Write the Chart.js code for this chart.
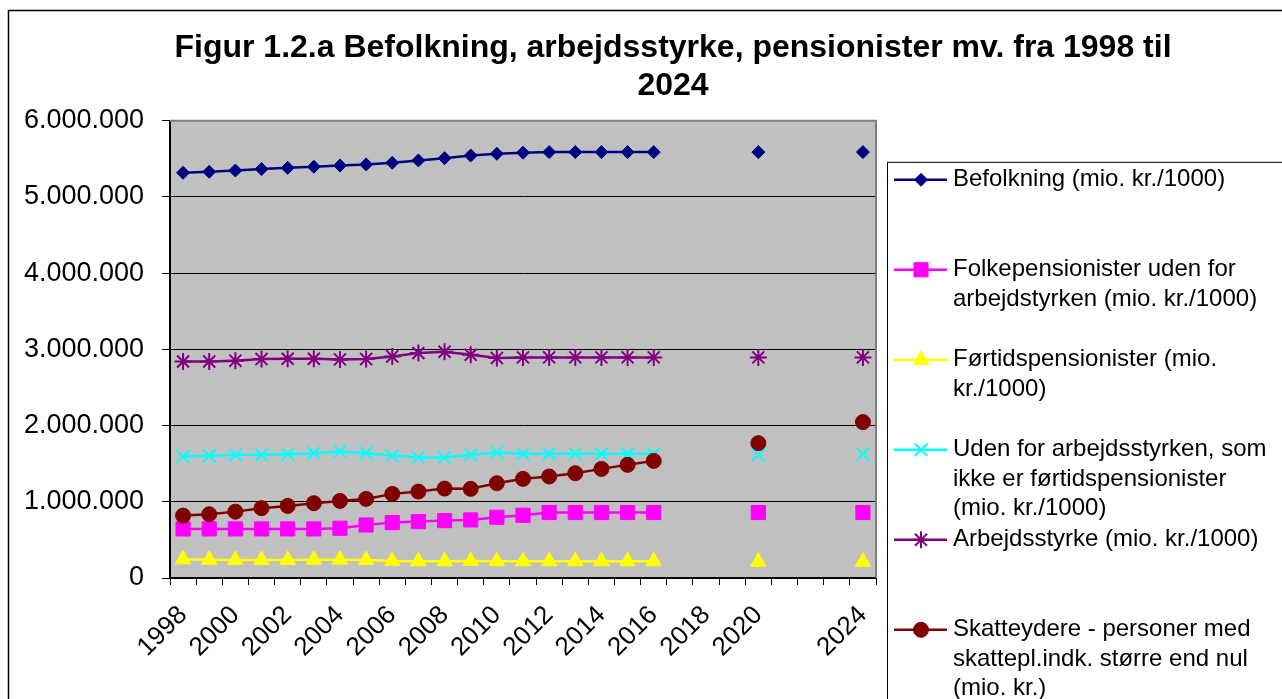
<!DOCTYPE html>
<html>
<head>
<meta charset="utf-8">
<script src="https://cdn.jsdelivr.net/npm/chart.js"></script>
<style>
  html, body { margin: 0; padding: 0; overflow: hidden; background: #fff; }
  #wrap { width: 1346px; height: 760px; }
</style>
</head>
<body>
<div id="wrap"><canvas id="chart"></canvas></div>
<script>
const years = ['1998', '1999', '2000', '2001', '2002', '2003', '2004', '2005', '2006', '2007',
    '2008', '2009', '2010', '2011', '2012', '2013', '2014', '2015', '2016', '2017',
    '2018', '2019', '2020', '2021', '2022', '2023', '2024'];
const shownYears = ['1998', '2000', '2002', '2004', '2006', '2008', '2010', '2012', '2014',
    '2016', '2018', '2020', '2024'];
const yTicks = [0, 1000000, 2000000, 3000000, 4000000, 5000000, 6000000];

const befolkning = [5318000, 5331000, 5348000, 5366000, 5383000, 5397000, 5414000, 5427000, 5449000, 5480000,
    5510000, 5545000, 5567000, 5581000, 5589000, 5589000, 5589000, 5589000, 5589000, null,
    null, null, 5589000, null, null, null, 5589000];
const folkepensionister = [644000, 644000, 644000, 644000, 644000, 644000, 653000, 696000, 727000, 740000,
    753000, 762000, 797000, 823000, 859000, 859000, 859000, 859000, 859000, null,
    null, null, 859000, null, null, null, 859000];
const foertidspensionister = [245000, 241000, 237000, 237000, 237000, 241000, 241000, 237000, 223000, 219000,
    219000, 223000, 220000, 220000, 220000, 220000, 220000, 220000, 220000, null,
    null, null, 214000, null, null, null, 214000];
const udenFor = [1594000, 1603000, 1616000, 1616000, 1625000, 1638000, 1660000, 1638000, 1607000, 1581000,
    1581000, 1616000, 1647000, 1629000, 1629000, 1629000, 1629000, 1629000, 1629000, null,
    null, null, 1616000, null, null, null, 1625000];
const arbejdsstyrke = [2842000, 2842000, 2852000, 2873000, 2878000, 2878000, 2869000, 2873000, 2908000, 2952000,
    2970000, 2930000, 2887000, 2895000, 2895000, 2895000, 2895000, 2895000, 2895000, null,
    null, null, 2895000, null, null, null, 2895000];
const skatteydere = [819000, 837000, 871000, 916000, 946000, 982000, 1012000, 1038000, 1104000, 1134000,
    1173000, 1170000, 1244000, 1301000, 1332000, 1375000, 1432000, 1485000, 1537000, null,
    null, null, 1770000, null, null, null, 2046000];

// legend text, broken into lines like the original
const seriesNames = [
    ['Befolkning (mio. kr./1000)'],
    ['Folkepensionister uden for', 'arbejdstyrken (mio. kr./1000)'],
    ['Førtidspensionister (mio.', 'kr./1000)'],
    ['Uden for arbejdsstyrken, som', 'ikke er førtidspensionister', '(mio. kr./1000)'],
    ['Arbejdsstyrke (mio. kr./1000)'],
    ['Skatteydere - personer med', 'skattepl.indk. større end nul', '(mio. kr.)']
];

const FONT = '"Liberation Sans", Arial, sans-serif';

function series(i, data, color, style, radius, pointBorder) {
    return {
        label: seriesNames[i].join(' '),
        data: data,
        borderColor: color,
        backgroundColor: color,
        borderWidth: 2.5,
        pointStyle: style,
        pointRadius: radius,
        pointHoverRadius: radius,
        pointBorderWidth: pointBorder,
        tension: 0,
        spanGaps: false,
        order: 6 - i
    };
}

function dots(v) {
    return String(v).replace(/\B(?=(\d{3})+(?!\d))/g, '.');
}

const chartDecor = {
    id: 'chartDecor',
    beforeDraw(chart) {
        const { ctx, chartArea: a } = chart;
        ctx.save();
        ctx.fillStyle = '#C0C0C0';
        ctx.fillRect(a.left, a.top, a.right - a.left, a.bottom - a.top);
        ctx.restore();
    },
    beforeDatasetsDraw(chart) {
        const { ctx, chartArea: a } = chart;
        ctx.save();
        ctx.strokeStyle = '#808080';
        ctx.lineWidth = 2;
        ctx.beginPath();
        ctx.moveTo(a.left, a.top);
        ctx.lineTo(a.right, a.top);
        ctx.lineTo(a.right, a.bottom);
        ctx.stroke();
        ctx.restore();
    },
    afterDraw(chart) {
        const { ctx, chartArea: a } = chart;
        ctx.save();
        // outer frame of the chart
        ctx.strokeStyle = '#000';
        ctx.lineWidth = 1.5;
        ctx.strokeRect(8.5, 10.5, chart.width - 9, chart.height - 11);

        // legend box
        const boxLeft = a.right + 11;
        const boxTop = a.top + 41;
        ctx.lineWidth = 1;
        ctx.strokeStyle = '#000';
        ctx.strokeRect(boxLeft + 0.5, boxTop + 0.5, 600, 600);

        ctx.font = '24px ' + FONT;
        ctx.textBaseline = 'middle';
        ctx.textAlign = 'left';
        chart.data.datasets.forEach((ds, i) => {
            const y = boxTop + 18 + i * 90;
            ctx.strokeStyle = ds.borderColor;
            ctx.fillStyle = ds.backgroundColor;
            ctx.lineWidth = 2.5;
            ctx.beginPath();
            ctx.moveTo(boxLeft + 7, y);
            ctx.lineTo(boxLeft + 60, y);
            ctx.stroke();
            ctx.lineWidth = ds.pointBorderWidth;
            Chart.helpers.drawPoint(ctx, {
                pointStyle: ds.pointStyle,
                radius: ds.pointRadius,
                rotation: 0,
                borderWidth: ds.pointBorderWidth
            }, boxLeft + 34, y);
            ctx.fillStyle = '#000';
            seriesNames[i].forEach((line, j) => {
                ctx.fillText(line, boxLeft + 66, y + j * 29.5);
            });
        });
        ctx.restore();
    }
};

const ctx = document.getElementById('chart').getContext('2d');
const chart = new Chart(ctx, {
    type: 'line',
    data: {
        labels: years,
        datasets: [
            series(0, befolkning, '#000080', 'rectRot', 6.5, 1),
            series(1, folkepensionister, '#FF00FF', 'rect', 10, 1),
            series(2, foertidspensionister, '#FFFF00', 'triangle', 9, 1),
            series(3, udenFor, '#00FFFF', 'crossRot', 9, 2),
            series(4, arbejdsstyrke, '#800080', 'star', 8.5, 2),
            series(5, skatteydere, '#800000', 'circle', 7.5, 1)
        ]
    },
    options: {
        responsive: true,
        maintainAspectRatio: false,
        animation: false,
        layout: { padding: { left: 0, right: 0, top: 0, bottom: 72 } },
        plugins: {
            legend: { display: false },
            tooltip: { enabled: false },
            title: {
                display: true,
                text: ['Figur 1.2.a Befolkning, arbejdsstyrke, pensionister mv. fra 1998 til', '2024'],
                color: '#000',
                font: { family: FONT, size: 32, weight: 'bold', lineHeight: 1.2 },
                padding: { top: 29, bottom: 15 }
            }
        },
        scales: {
            x: {
                offset: true,
                grid: { display: true, offset: true, drawOnChartArea: false, color: '#000', tickLength: 7 },
                border: { display: true, color: '#000', width: 2 },
                ticks: {
                    autoSkip: false,
                    maxRotation: 45,
                    minRotation: 45,
                    padding: 15,
                    color: '#000',
                    font: { family: FONT, size: 26 },
                    callback: function (value, index) {
                        const lab = years[index];
                        return shownYears.includes(lab) ? lab : '';
                    }
                },
                afterFit(scale) { scale.height = 110; }
            },
            y: {
                min: 0,
                max: 6000000,
                afterBuildTicks(scale) { scale.ticks = yTicks.map(v => ({ value: v })); },
                grid: { color: '#000', lineWidth: 1, tickLength: 8 },
                border: { display: true, color: '#000', width: 2 },
                ticks: {
                    padding: 18,
                    color: '#000',
                    font: { family: FONT, size: 27 },
                    callback: v => dots(v)
                },
                afterFit(scale) { scale.width = 170; }
            },
            yRight: {
                position: 'right',
                display: true,
                grid: { display: false },
                border: { display: false },
                ticks: { display: false },
                afterFit(scale) { scale.width = 470; }
            }
        }
    },
    plugins: [chartDecor]
});
</script>
</body>
</html>
